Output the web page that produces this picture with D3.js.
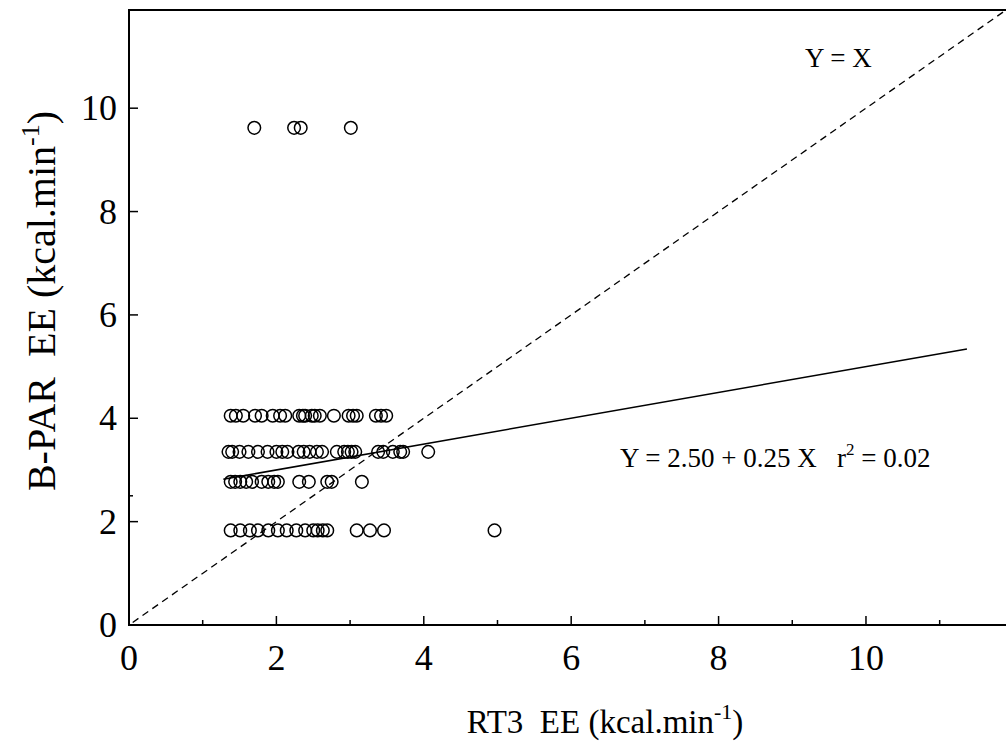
<!DOCTYPE html>
<html>
<head>
<meta charset="utf-8">
<script src="https://cdn.jsdelivr.net/npm/d3@7"></script>
<style>
  body { margin: 0; background: #fff; }
  svg { display: block; font-family: "Liberation Serif", "Times New Roman", serif; }
  text { fill: #000; white-space: pre; }
</style>
</head>
<body>
<svg width="1006" height="742"></svg>
<script>
// B-PAR levels and the RT3 values read at each level
const levels = [9.62, 4.05, 3.35, 2.77, 1.83];
const rt3AtLevel = [
  [1.70, 2.24, 2.33, 3.01],
  [1.38, 1.45, 1.55, 1.71, 1.80, 1.95, 2.05, 2.12, 2.31, 2.36, 2.39, 2.48, 2.52, 2.59, 2.78, 2.98, 3.04, 3.09, 3.35, 3.42, 3.49],
  [1.35, 1.40, 1.50, 1.62, 1.75, 1.88, 2.00, 2.08, 2.15, 2.30, 2.37, 2.45, 2.55, 2.62, 2.82, 2.92, 2.97, 3.02, 3.07, 3.38, 3.45, 3.58, 3.68, 3.72, 4.06],
  [1.38, 1.44, 1.51, 1.59, 1.67, 1.80, 1.89, 1.97, 2.02, 2.31, 2.44, 2.69, 2.75, 3.16],
  [1.38, 1.51, 1.64, 1.75, 1.89, 2.02, 2.14, 2.27, 2.39, 2.50, 2.56, 2.63, 2.69, 3.09, 3.27, 3.46, 4.96]
];
const majorTicks = [0, 2, 4, 6, 8, 10];
const minorTicksX = [1, 3, 5, 7, 9, 11];
const intercept = 2.50, slope = 0.25;
const fitRange = [1.28, 11.37];

const points = [];
levels.forEach((lv, i) => rt3AtLevel[i].forEach(v => points.push([v, lv])));

const svg = d3.select("svg");
const x = d3.scaleLinear().domain([0, 11.9]).range([129, 1006]);
const y = d3.scaleLinear().domain([0, 11.9]).range([625, 10]);

// frame
svg.append("path")
  .attr("d", `M${x(11.9) + 2},${y(11.9)}H${x(0)}V${y(0)}H${x(11.9) + 2}`)
  .attr("fill", "none")
  .attr("stroke", "#000")
  .attr("stroke-width", 2);

// x ticks
svg.selectAll("line.xmaj").data(majorTicks.slice(1)).enter().append("line")
  .attr("x1", d => x(d)).attr("x2", d => x(d))
  .attr("y1", y(0)).attr("y2", y(0) - 9)
  .attr("stroke", "#000").attr("stroke-width", 1.5);
svg.selectAll("line.xmin").data(minorTicksX).enter().append("line")
  .attr("x1", d => x(d)).attr("x2", d => x(d))
  .attr("y1", y(0)).attr("y2", y(0) - 5)
  .attr("stroke", "#000").attr("stroke-width", 1.5);
svg.selectAll("text.xl").data(majorTicks).enter().append("text")
  .attr("x", d => x(d)).attr("y", 670)
  .attr("text-anchor", "middle")
  .attr("font-size", 36)
  .text(d => d);

// y ticks
svg.selectAll("line.ymaj").data(majorTicks.slice(1)).enter().append("line")
  .attr("x1", x(0)).attr("x2", x(0) + 9)
  .attr("y1", d => y(d)).attr("y2", d => y(d))
  .attr("stroke", "#000").attr("stroke-width", 1.5);
svg.append("line")
  .attr("x1", x(0)).attr("x2", x(0) + 4)
  .attr("y1", y(intercept)).attr("y2", y(intercept))
  .attr("stroke", "#000").attr("stroke-width", 1.5);
svg.selectAll("text.yl").data(majorTicks).enter().append("text")
  .attr("x", 117).attr("y", d => y(d) + 12)
  .attr("text-anchor", "end")
  .attr("font-size", 36)
  .text(d => d);

// identity line
svg.append("line")
  .attr("x1", x(0.05)).attr("y1", y(0.05))
  .attr("x2", x(11.9)).attr("y2", y(11.9))
  .attr("stroke", "#000").attr("stroke-width", 1.3)
  .attr("stroke-dasharray", "7,5");

// regression line
svg.append("line")
  .attr("x1", x(fitRange[0])).attr("y1", y(intercept + slope * fitRange[0]))
  .attr("x2", x(fitRange[1])).attr("y2", y(intercept + slope * fitRange[1]))
  .attr("stroke", "#000").attr("stroke-width", 1.5);

// points
svg.selectAll("circle").data(points).enter().append("circle")
  .attr("cx", d => x(d[0])).attr("cy", d => y(d[1]))
  .attr("r", 6.3)
  .attr("fill", "none")
  .attr("stroke", "#000")
  .attr("stroke-width", 1.5);

// annotations
svg.append("text").attr("x", 805).attr("y", 67).attr("font-size", 27).text("Y = X");
const eq = svg.append("text").attr("x", 620).attr("y", 467).attr("font-size", 27);
eq.append("tspan").text("Y = 2.50 + 0.25 X   r");
eq.append("tspan").attr("font-size", 17).attr("dy", -12).text("2");
eq.append("tspan").attr("dy", 12).text(" = 0.02");

// axis titles
const xt = svg.append("text").attr("x", 605).attr("y", 733)
  .attr("text-anchor", "middle").attr("font-size", 33);
xt.append("tspan").text("RT3  EE (kcal.min");
xt.append("tspan").attr("font-size", 22).attr("dy", -14).text("-1");
xt.append("tspan").attr("dy", 14).text(")");

const yt = svg.append("text")
  .attr("transform", `translate(55,${301}) rotate(-90)`)
  .attr("text-anchor", "middle").attr("font-size", 40);
yt.append("tspan").text("B-PAR  EE (kcal.min");
yt.append("tspan").attr("font-size", 26).attr("dy", -16).text("-1");
yt.append("tspan").attr("dy", 16).text(")");
</script>
</body>
</html>
